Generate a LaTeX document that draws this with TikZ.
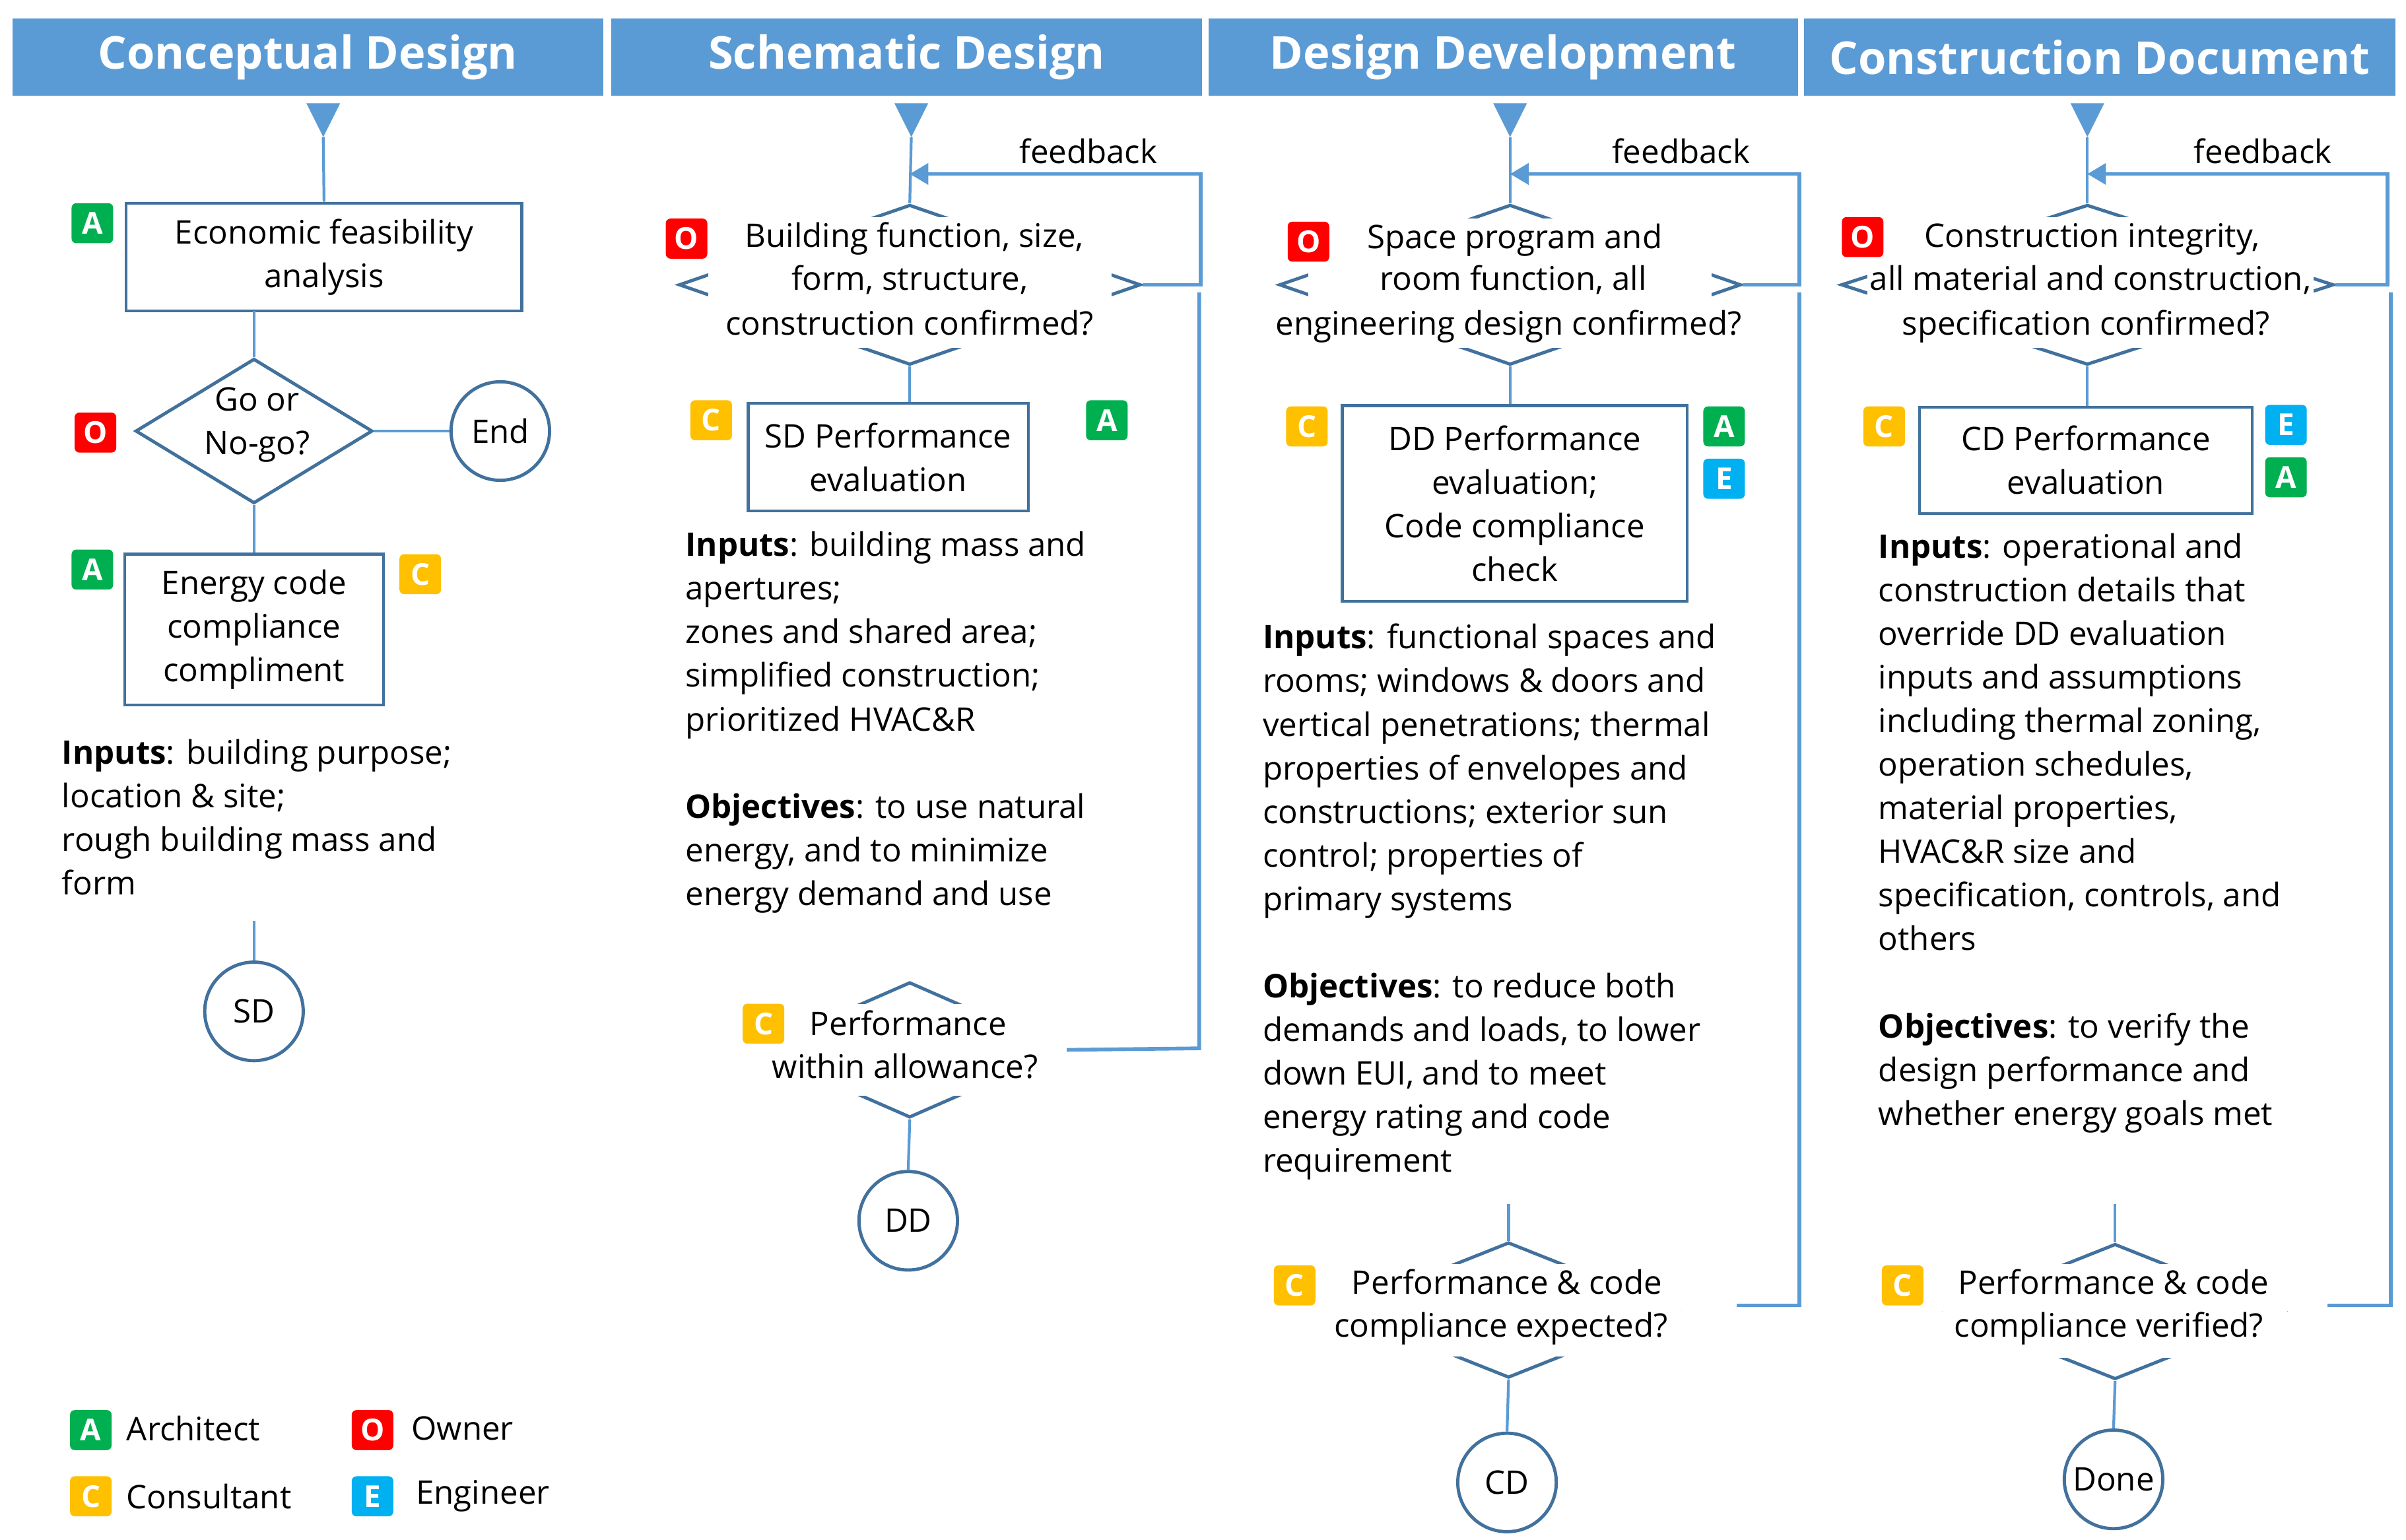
\documentclass[tikz,border=0pt]{standalone}
\usepackage{fontspec}
\setmainfont{Open Sans}
\usetikzlibrary{shapes.geometric,arrows.meta}
\definecolor{hdr}{HTML}{5B9BD5}
\definecolor{ln}{HTML}{5B9BD5}
\definecolor{bd}{HTML}{41719C}
\definecolor{gA}{HTML}{00B050}
\definecolor{rO}{HTML}{FF0000}
\definecolor{yC}{HTML}{FFC000}
\definecolor{bE}{HTML}{00B0F0}
\begin{document}
\begin{tikzpicture}[x=0.02332cm,y=-0.02332cm,
  txt/.style={font=\fontsize{14}{18.8}\selectfont,inner sep=0pt},
  head/.style={fill=hdr,minimum height=50*0.02332cm,text=white,font=\fontsize{19.5}{20}\selectfont\bfseries,inner sep=0pt},
  box/.style={draw=bd,line width=1.2pt,txt,align=center,inner sep=0pt},
  dia/.style={diamond,draw=bd,line width=1.4pt,inner sep=0pt},
  mask/.style={fill=white,draw=none,inner sep=0pt},
  lt/.style={txt,fill=white,inner xsep=1pt,inner ysep=0pt,text height=10.5pt,text depth=3pt,minimum height=28*0.02332cm},
  circ/.style={circle,draw=bd,line width=1.4pt,minimum size=64*0.02332cm,txt,inner sep=0pt},
  badge/.style={rounded corners=2pt,minimum width=27*0.02332cm,minimum height=26*0.02332cm,inner sep=0pt,text=white,font=\fontsize{13}{13}\selectfont\bfseries},
  bA/.style={badge,fill=gA},bO/.style={badge,fill=rO},bC/.style={badge,fill=yC},bE/.style={badge,fill=bE},
  con/.style={ln,line width=1.2pt},
  fb/.style={ln,line width=1.6pt},
  tri/.style={fill=hdr,draw=none}
]
\useasboundingbox (0,0) rectangle (1563,1000);
% headers
\node[head,minimum width=384*0.02332cm] (h1) at (200,37) {Conceptual Design};
\node[head,minimum width=384*0.02332cm] (h2) at (589,37) {Schematic Design};
\node[head,minimum width=383*0.02332cm] (h3) at (976.5,37) {Design Development};
\node[head,minimum width=384*0.02332cm] (h4) at (1364,37) {Construction Document};
% top triangles
\foreach \c/\n in {210/t1,592/t2,981/t3,1356/t4}{
  \fill[tri] (\c-11,67) -- (\c+11,67) -- (\c,89) -- cycle;
  \coordinate (\n) at (\c,89);
}
% ---------- column 1
\node[box,minimum width=257*0.02332cm,minimum height=70*0.02332cm] (ef) at (210.5,167) {Economic feasibility\\analysis};
\node[bA] (ef-a) at (60,145) {A};
\node[dia,minimum width=154*0.02332cm,minimum height=94*0.02332cm] (go) at (165,280) {};
\node[txt,align=center] (got) at (167,276) {Go or\\No-go?};
\node[bO] (go-o) at (62,281) {O};
\node[circ] (end) at (325,280) {End};
\node[box,minimum width=168*0.02332cm,minimum height=98*0.02332cm] (ec) at (165,409) {Energy code\\compliance\\compliment};
\node[bA] (ec-a) at (60,370) {A};
\node[bC] (ec-c) at (273,373) {C};
\node[txt,align=left,anchor=north west] (in1) at (40,480) {\textbf{Inputs}: building purpose;\\location \& site;\\rough building mass and\\form};
\coordinate (s1) at (165,598);
\node[circ] (sd) at (165,657) {SD};
\draw[con] (t1) -- (ef.north);
\draw[con] (165,202) -- (go.north);
\draw[con] (go.east) -- (end.west);
\draw[con] (go.south) -- (ec.north);
\draw[con] (s1) -- (sd.north);
% ---------- column 2
\coordinate (f2a) at (780,113);
\coordinate (f2b) at (780,185);
\coordinate (f2c) at (779,190);
\coordinate (f2d) at (779,681);
\coordinate (f2e) at (591,113);
\node[dia,minimum width=300*0.02332cm,minimum height=104*0.02332cm] (d2) at (591,185) {};
\draw[con] (t2) -- (d2.north);
\draw[fb,-{Triangle[width=9pt,length=8pt]}] (d2.east) -- (f2b) -- (f2a) -- (f2e);
\node[mask,minimum width=262*0.02332cm,minimum height=78*0.02332cm] (d2m) at (591,185) {};
\node[lt] (d2l1) at (594,155) {Building function, size,};
\node[lt] (d2l2) at (591,183) {form, structure,};
\node[lt] (d2l3) at (591,212) {construction confirmed?};
\node[bO] (d2-o) at (446,155) {O};
\node[txt] (fb2) at (707,98) {feedback};
\node[box,minimum width=182*0.02332cm,minimum height=70*0.02332cm] (sdp) at (577,297) {SD Performance\\evaluation};
\node[bC] (sdp-c) at (462,273) {C};
\node[bA] (sdp-a) at (719,273) {A};
\node[txt,align=left,anchor=north west] (in2) at (445,345) {\textbf{Inputs}: building mass and\\apertures;\\zones and shared area;\\simplified construction;\\prioritized HVAC\&R\\[18.8pt]\textbf{Objectives}: to use natural\\energy, and to minimize\\energy demand and use};
\node[dia,minimum width=200*0.02332cm,minimum height=88*0.02332cm] (p2) at (591,682) {};
\draw[fb] (f2c) -- (f2d) -- (p2.east);
\node[mask,minimum width=204*0.02332cm,minimum height=60*0.02332cm] (p2m) at (591,682) {};
\node[lt] (p2l1) at (590,667) {Performance};
\node[lt] (p2l2) at (588,695) {within allowance?};
\node[bC] (p2-c) at (496,665) {C};
\node[circ] (dd) at (590,793) {DD};
\draw[con] (d2.south) -- (sdp.north -| d2.south);
\draw[con] (p2.south) -- (dd.north);
% ---------- column 3
\coordinate (f3a) at (1169,113);
\coordinate (f3b) at (1169,185);
\coordinate (f3c) at (1169,190);
\coordinate (f3d) at (1169,848);
\coordinate (f3e) at (981,113);
\coordinate (f3f) at (1128,848);
\coordinate (p3top) at (980,782);
\node[dia,minimum width=300*0.02332cm,minimum height=104*0.02332cm] (d3) at (981,185) {};
\draw[con] (t3) -- (d3.north);
\draw[fb,-{Triangle[width=9pt,length=8pt]}] (d3.east) -- (f3b) -- (f3a) -- (f3e);
\node[mask,minimum width=262*0.02332cm,minimum height=78*0.02332cm] (d3m) at (981,185) {};
\node[lt] (d3l1) at (984,156) {Space program and};
\node[lt] (d3l2) at (983,183) {room function, all};
\node[lt] (d3l3) at (980,212) {engineering design confirmed?};
\node[bO] (d3-o) at (850,157) {O};
\node[txt] (fb3) at (1092,98) {feedback};
\node[box,minimum width=224*0.02332cm,minimum height=127*0.02332cm] (ddp) at (984,327) {DD Performance\\evaluation;\\Code compliance\\check};
\node[bC] (ddp-c) at (849,277) {C};
\node[bA] (ddp-a) at (1120,277) {A};
\node[bE] (ddp-e) at (1120,311) {E};
\node[txt,align=left,anchor=north west] (in3) at (820,405) {\textbf{Inputs}: functional spaces and\\rooms; windows \& doors and\\vertical penetrations; thermal\\properties of envelopes and\\constructions; exterior sun\\control; properties of\\primary systems\\[18.8pt]\textbf{Objectives}: to reduce both\\demands and loads, to lower\\down EUI, and to meet\\energy rating and code\\requirement};
\node[dia,minimum width=220*0.02332cm,minimum height=88*0.02332cm] (p3) at (980,851) {};
\draw[fb] (f3c) -- (f3d) -- (f3f);
\draw[con] (p3top) -- (p3.north);
\node[mask,minimum width=224*0.02332cm,minimum height=60*0.02332cm] (p3m) at (980,851) {};
\node[lt] (p3l1) at (979,835) {Performance \& code};
\node[lt] (p3l2) at (975,863) {compliance expected?};
\node[bC] (p3-c) at (841,835) {C};
\node[circ] (cd) at (979,963) {CD};
\draw[con] (d3.south) -- (ddp.north -| d3.south);
\draw[con] (p3.south) -- (cd.north);
% ---------- column 4
\coordinate (f4a) at (1551,113);
\coordinate (f4b) at (1551,185);
\coordinate (f4c) at (1553,190);
\coordinate (f4d) at (1553,848);
\coordinate (f4e) at (1356,113);
\coordinate (f4f) at (1512,848);
\coordinate (p4top) at (1374,782);
\node[dia,minimum width=320*0.02332cm,minimum height=104*0.02332cm] (d4) at (1356,185) {};
\draw[con] (t4) -- (d4.north);
\draw[fb,-{Triangle[width=9pt,length=8pt]}] (d4.east) -- (f4b) -- (f4a) -- (f4e);
\node[mask,minimum width=282*0.02332cm,minimum height=78*0.02332cm] (d4m) at (1356,185) {};
\node[lt] (d4l1) at (1359,155) {Construction integrity,};
\node[lt] (d4l2) at (1358,183) {all material and construction,};
\node[lt] (d4l3) at (1355,212) {specification confirmed?};
\node[bO] (d4-o) at (1210,154) {O};
\node[txt] (fb4) at (1470,98) {feedback};
\node[box,minimum width=216*0.02332cm,minimum height=69*0.02332cm] (cdp) at (1355,299) {CD Performance\\evaluation};
\node[bC] (cdp-c) at (1224,277) {C};
\node[bE] (cdp-e) at (1485,276) {E};
\node[bA] (cdp-a) at (1485,310) {A};
\node[txt,align=left,anchor=north west] (in4) at (1220,346) {\textbf{Inputs}: operational and\\construction details that\\override DD evaluation\\inputs and assumptions\\including thermal zoning,\\operation schedules,\\material properties,\\HVAC\&R size and\\specification, controls, and\\others\\[18.8pt]\textbf{Objectives}: to verify the\\design performance and\\whether energy goals met};
\node[dia,minimum width=220*0.02332cm,minimum height=88*0.02332cm] (p4) at (1374,852) {};
\draw[fb] (f4c) -- (f4d) -- (f4f);
\draw[con] (p4top) -- (p4.north);
\node[mask,minimum width=224*0.02332cm,minimum height=60*0.02332cm] (p4m) at (1374,852) {};
\node[lt] (p4l1) at (1373,835) {Performance \& code};
\node[lt] (p4l2) at (1370,863) {compliance verified?};
\node[bC] (p4-c) at (1236,835) {C};
\node[circ] (dn) at (1373,961) {Done};
\draw[con] (d4.south) -- (cdp.north -| d4.south);
\draw[con] (p4.south) -- (dn.north);
% legend
\node[bA] (la) at (59,929) {A}; \node[txt,anchor=west] (lat) at (82,928) {Architect};
\node[bO] (lo) at (242,929) {O}; \node[txt,anchor=west] (lot) at (267,928) {Owner};
\node[bC] (lc) at (59,972) {C}; \node[txt,anchor=west] (lct) at (82,972) {Consultant};
\node[bE] (le) at (242,972) {E}; \node[txt,anchor=west] (let) at (270,972) {Engineer};
\end{tikzpicture}
\end{document}
